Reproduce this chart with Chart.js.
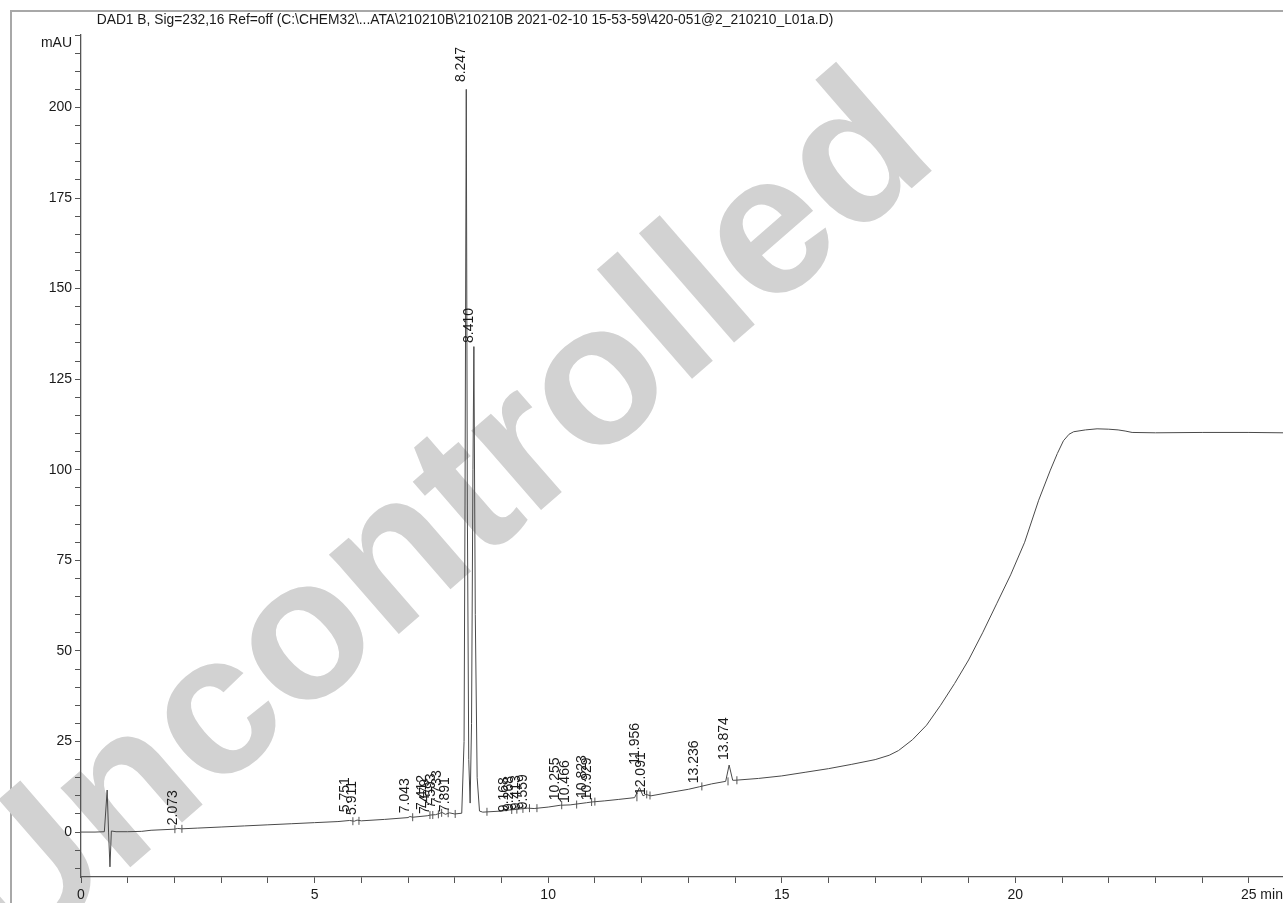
<!DOCTYPE html>
<html>
<head>
<meta charset="utf-8">
<script src="https://cdn.jsdelivr.net/npm/chart.js@4.4.1/dist/chart.umd.min.js"></script>
<style>
  html, body { margin: 0; padding: 0; background: #fff; }
  #wrap { position: relative; width: 1283px; height: 903px; overflow: hidden; }
  #frame { position: absolute; left: 10px; top: 10px; width: 1400px; height: 1000px;
           border-left: 2px solid #a8a8a8; border-top: 2px solid #a8a8a8; }
  canvas { position: absolute; left: 0; top: 0; }
</style>
</head>
<body>
<div id="wrap">
  <div id="frame"></div>
  <canvas id="chart" width="1283" height="903"></canvas>
</div>
<script>
/* ── Chromatogram data ───────────────────────────────────────── */
const titleText = 'DAD1 B, Sig=232,16 Ref=off (C:\\CHEM32\\...ATA\\210210B\\210210B 2021-02-10 15-53-59\\420-051@2_210210_L01a.D)';

// detector trace, time in min / signal in mAU
const traceTime = [
  0, 0.3, 0.5, 0.56, 0.59, 0.62, 0.65, 0.75, 1.0, 1.3, 1.5, 2.0, 2.07, 2.15, 2.5,
  3.0, 3.5, 4.0, 4.5, 5.0, 5.5, 5.75, 5.85, 5.91, 6.0, 6.5, 7.0, 7.04, 7.1,
  7.41, 7.48, 7.59, 7.73, 7.8, 7.89, 8.0, 8.15, 8.2, 8.22, 8.247, 8.27, 8.3,
  8.33, 8.36, 8.39, 8.41, 8.44, 8.48, 8.53, 8.6, 9.0, 9.17, 9.27, 9.41, 9.56,
  9.7, 10.0, 10.26, 10.47, 10.82, 10.93, 11.2, 11.5, 11.85, 11.956, 12.03,
  12.09, 12.2, 12.5, 13.0, 13.236, 13.5, 13.8, 13.874, 13.95, 14.0, 14.5,
  15.0, 15.5, 16.0, 16.5, 17.0, 17.3, 17.5, 17.8, 18.1, 18.4, 18.7, 19.0,
  19.3, 19.6, 19.9, 20.2, 20.5, 20.75, 20.9, 21.03, 21.15, 21.25, 21.5,
  21.75, 22.0, 22.2, 22.35, 22.5, 23.0, 24.0, 25.0, 25.73
];
const traceValue = [
  0, 0, 0.1, 11.6, 0, -9.6, 0.3, 0.1, 0.1, 0.2, 0.5, 0.8, 1.0, 0.9, 1.1,
  1.4, 1.7, 2.0, 2.3, 2.6, 2.9, 3.2, 3.0, 3.3, 3.1, 3.5, 4.0, 4.3, 4.1,
  4.5, 4.7, 4.8, 5.4, 4.9, 5.3, 5.0, 5.2, 25, 90, 205, 90, 20,
  8, 30, 100, 134, 60, 15, 5.8, 5.5, 5.8, 6.1, 6.2, 6.4, 6.6,
  6.5, 6.9, 7.4, 7.5, 8.1, 8.3, 8.6, 9.0, 9.5, 12.3, 10.0,
  10.4, 10.0, 10.7, 11.8, 12.5, 13.3, 14.0, 18.5, 14.3, 14.3, 14.8,
  15.5, 16.5, 17.5, 18.7, 20.0, 21.2, 22.5, 25.5, 29.5, 35, 41, 47.5,
  55, 63, 71, 80, 91.6, 99.9, 104.5, 108, 109.8, 110.5, 111.0,
  111.3, 111.2, 111.0, 110.7, 110.3, 110.2, 110.3, 110.3, 110.2
];

// integration start/stop marks on the baseline
const markTime  = [2.01, 2.16, 5.82, 5.95, 7.1, 7.47, 7.53, 7.65, 7.72, 7.86, 8.01,
                   8.69, 9.22, 9.33, 9.46, 9.6, 9.76, 10.29, 10.61, 10.93, 11.0,
                   11.9, 12.11, 12.18, 13.29, 13.85, 14.04];
const markValue = [0.8, 0.9, 3.0, 3.1, 4.1, 4.7, 4.7, 4.9, 5.3, 5.2, 5.0,
                   5.6, 6.1, 6.2, 6.4, 6.6, 6.6, 7.4, 7.6, 8.3, 8.4,
                   9.6, 10.4, 10.1, 12.6, 14.0, 14.3];

// retention-time labels and the height their foot sits at
const peakTimes  = [2.073, 5.751, 5.911, 7.043, 7.412, 7.479, 7.593, 7.733, 7.891,
                    8.247, 8.410, 9.168, 9.268, 9.413, 9.559, 10.255, 10.466,
                    10.823, 10.929, 12.091, 11.956, 13.236, 13.874];
const peakLabelY = [1.9, 5.5, 4.7, 5.2, 6.1, 5.0, 6.5, 7.4, 5.5,
                    207, 135, 5.5, 5.8, 6.0, 6.3, 8.8, 8.0,
                    9.4, 8.8, 10.2, 18.6, 13.5, 19.9];

const xMajor = [0, 5, 10, 15, 20, 25];
const yMajor = [0, 25, 50, 75, 100, 125, 150, 175, 200];

const FONT = '"Liberation Sans", Arial, sans-serif';

/* ── Extra drawing: title, units, peak labels, watermark ─────── */
const chromPlugin = {
  id: 'chrom',
  beforeDraw(chart) {
    const c = chart.ctx;
    c.save();
    c.translate(440, 525);
    c.rotate(-41 * Math.PI / 180);
    c.font = 'bold 200px ' + FONT;
    c.fillStyle = '#d2d2d2';
    c.textAlign = 'center';
    c.textBaseline = 'middle';
    c.fillText('Uncontrolled', 0, 0);
    c.restore();
  },
  afterDraw(chart) {
    const c = chart.ctx;
    const xs = chart.scales.x, ys = chart.scales.y;
    const area = chart.chartArea;
    c.save();
    c.fillStyle = '#1a1a1a';

    // header line
    c.font = '13.8px ' + FONT;
    c.textAlign = 'center';
    c.textBaseline = 'middle';
    c.fillText(titleText, 465, 20);

    // units
    c.font = '14px ' + FONT;
    c.textAlign = 'right';
    c.fillText('mAU', area.left - 9, area.top + 8);
    c.textAlign = 'left';
    c.fillText('25 min', xs.getPixelForValue(25) - 8, area.bottom + 18);

    // peak labels, rotated
    c.textBaseline = 'alphabetic';
    peakTimes.forEach((t, i) => {
      const px = xs.getPixelForValue(t);
      const py = ys.getPixelForValue(peakLabelY[i]);
      c.save();
      c.translate(px - 1, py);
      c.rotate(-Math.PI / 2);
      c.fillText(t.toFixed(3), 0, 0);
      c.restore();
    });
    c.restore();
  }
};

const ctx = document.getElementById('chart').getContext('2d');
new Chart(ctx, {
  type: 'line',
  data: {
    datasets: [
      {
        label: 'DAD1 B',
        data: traceTime.map((t, i) => ({ x: t, y: traceValue[i] })),
        borderColor: '#4a4a4a',
        borderWidth: 1,
        pointRadius: 0,
        tension: 0,
      },
      {
        type: 'scatter',
        label: 'marks',
        data: markTime.map((t, i) => ({ x: t, y: markValue[i] })),
        pointStyle: 'line',
        rotation: 90,
        radius: 4,
        borderColor: '#555',
        borderWidth: 1,
      },
    ],
  },
  options: {
    responsive: false,
    animation: false,
    layout: { autoPadding: false, padding: { top: 35, right: 0, left: 0, bottom: 0 } },
    plugins: {
      legend: { display: false },
      tooltip: { enabled: false },
    },
    scales: {
      x: {
        type: 'linear',
        min: 0,
        max: 25.73,
        border: { color: '#555', width: 1.3 },
        grid: { drawOnChartArea: false, tickLength: 6, color: '#555', lineWidth: 1 },
        ticks: {
          stepSize: 1, autoSkip: false, includeBounds: false, maxRotation: 0, padding: 4,
          color: '#1a1a1a', font: { family: FONT, size: 14 },
          // the last label is written together with its unit by the plugin
          callback: v => (xMajor.includes(v) && v !== 25) ? String(v) : '',
        },
        afterFit: s => { s.height = 26; s.paddingLeft = 0; s.paddingRight = 0; },
      },
      y: {
        min: -12.4,
        max: 220,
        border: { color: '#555', width: 1.3 },
        grid: { drawOnChartArea: false, tickLength: 6, color: '#555', lineWidth: 1 },
        ticks: {
          stepSize: 5, autoSkip: false, includeBounds: false, padding: 3,
          color: '#1a1a1a', font: { family: FONT, size: 14 },
          callback: v => yMajor.includes(v) ? String(v) : '',
        },
        afterFit: s => { s.width = 81; },
      },
    },
  },
  plugins: [chromPlugin],
});
</script>
</body>
</html>
